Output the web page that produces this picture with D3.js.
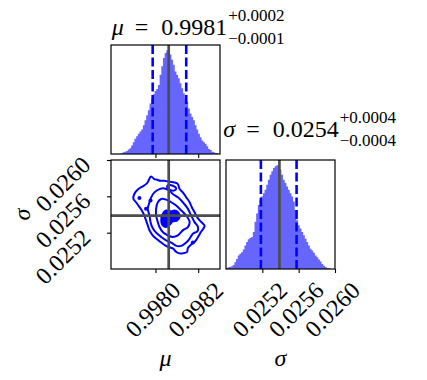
<!DOCTYPE html>
<html>
<head>
<meta charset="utf-8">
<script src="https://cdn.jsdelivr.net/npm/d3@7"></script>
<style>
  html, body { margin: 0; padding: 0; background: #fff; }
  svg { display: block; }
</style>
</head>
<body>
<div id="chart"></div>
<script>
// parameter ranges shown on the axes
const muRange = [0.997792, 0.998302];
const sigmaRange = [0.0248, 0.0260];
const muTicks = [0.9980, 0.9982];
const sigmaTicks = [0.0252, 0.0256, 0.0260];

// 1d histograms (relative counts, equal bins over the axis range)
const muCounts = [0, 0, 0, 0, 0, 1, 2, 5, 7, 9, 13, 17, 25, 35, 45, 53, 60, 67, 73, 85,
  100, 115, 130, 150, 165, 177, 187, 193, 205, 235, 260, 285, 300, 308, 305, 295, 280, 265, 245, 235,
  225, 210, 195, 180, 165, 155, 135, 120, 110, 100, 85, 73, 60, 50, 40, 35, 30, 23, 15, 12,
  7, 5, 3, 2, 0];
const sigmaCounts = [3, 5, 6, 8, 12, 20, 30, 40, 45, 50, 58, 70, 80, 88, 92, 95, 110, 140, 165, 190,
  205, 215, 225, 235, 250, 265, 280, 290, 300, 305, 308, 305, 295, 280, 265, 255, 245, 235, 225, 215,
  200, 175, 145, 130, 120, 110, 100, 90, 80, 70, 60, 55, 48, 40, 35, 28, 22, 15, 10, 6,
  3, 2, 0, 0, 0];

// quantiles (16%, 84%) and truth values
const muQuantiles = [0.997987, 0.998144];
const sigmaQuantiles = [0.025184, 0.025577];
const muTruth = 0.998062;
const sigmaTruth = 0.025388;

// titles
const muTitle = { sym: 'μ', value: '0.9981', up: '+0.0002', down: '−0.0001' };
const sigmaTitle = { sym: 'σ', value: '0.0254', up: '+0.0004', down: '−0.0004' };

// 2d contours, [mu, sigma] pairs
const outerContour = [
  [0.997979, 0.025818], [0.997961, 0.025746], [0.997940, 0.025709], [0.997920, 0.025681],
  [0.997901, 0.025626], [0.997897, 0.025572], [0.997909, 0.025535], [0.997920, 0.025499],
  [0.997936, 0.025444], [0.997948, 0.025389], [0.997956, 0.025335], [0.997964, 0.025280],
  [0.997972, 0.025226], [0.997987, 0.025171], [0.998003, 0.025135], [0.998019, 0.025106],
  [0.998039, 0.025070], [0.998058, 0.025044], [0.998081, 0.025026], [0.998097, 0.024989],
  [0.998113, 0.024972], [0.998128, 0.024972], [0.998148, 0.024989], [0.998152, 0.025033],
  [0.998167, 0.025070], [0.998186, 0.025106], [0.998199, 0.025153], [0.998211, 0.025201],
  [0.998230, 0.025273], [0.998222, 0.025299], [0.998207, 0.025335], [0.998195, 0.025371],
  [0.998183, 0.025425], [0.998170, 0.025480], [0.998160, 0.025535], [0.998144, 0.025589],
  [0.998128, 0.025644], [0.998113, 0.025681], [0.998105, 0.025735], [0.998089, 0.025753],
  [0.998066, 0.025760], [0.998042, 0.025771], [0.998023, 0.025771], [0.998008, 0.025782],
  [0.997995, 0.025790]
];
const middleContour = [
  [0.997995, 0.025644], [0.998019, 0.025680], [0.998042, 0.025687], [0.998066, 0.025662],
  [0.998081, 0.025625], [0.998105, 0.025589], [0.998128, 0.025535], [0.998152, 0.025462],
  [0.998167, 0.025389], [0.998183, 0.025316], [0.998199, 0.025262], [0.998196, 0.025215],
  [0.998175, 0.025189], [0.998160, 0.025135], [0.998144, 0.025091], [0.998121, 0.025055],
  [0.998097, 0.025055], [0.998074, 0.025091], [0.998050, 0.025116], [0.998027, 0.025153],
  [0.998003, 0.025200], [0.997987, 0.025251], [0.997977, 0.025316], [0.997972, 0.025389],
  [0.997964, 0.025462], [0.997972, 0.025535], [0.997980, 0.025589]
];
const topLoop = [
  [0.998058, 0.025724], [0.998081, 0.025716], [0.998097, 0.025691],
  [0.998089, 0.025665], [0.998066, 0.025673], [0.998055, 0.025698]
];
const innerContour = [
  [0.998011, 0.025535], [0.998027, 0.025571], [0.998050, 0.025564], [0.998074, 0.025535],
  [0.998097, 0.025498], [0.998121, 0.025444], [0.998144, 0.025389], [0.998160, 0.025316],
  [0.998152, 0.025262], [0.998128, 0.025225], [0.998105, 0.025171], [0.998081, 0.025153],
  [0.998058, 0.025171], [0.998034, 0.025207], [0.998019, 0.025262], [0.998011, 0.025316],
  [0.998003, 0.025389], [0.998003, 0.025462]
];
const coreContour = [
  [0.998034, 0.025407], [0.998050, 0.025444], [0.998074, 0.025433], [0.998089, 0.025444],
  [0.998108, 0.025418], [0.998113, 0.025371], [0.998102, 0.025335], [0.998081, 0.025324],
  [0.998066, 0.025287], [0.998050, 0.025262], [0.998034, 0.025280], [0.998027, 0.025335]
];
const strayPoints = [
  [0.997925, 0.025582], [0.997956, 0.025462], [0.997977, 0.025553], [0.998175, 0.025091]
];

// layout
const width = 427;
const height = 380;
const size = 109;
const col = [111, 226];
const row = [45, 160];
const blue = '#0000ff';
const truthColor = '#4d4d4d';

// pick the first serif face that is really installed
function pickSerif(candidates) {
  const ctx = document.createElement('canvas').getContext('2d');
  const sample = 'mmmmmwwwlli 0.9981 =';
  const widthOf = f => { ctx.font = `40px ${f}`; return ctx.measureText(sample).width; };
  const baseMono = widthOf('monospace');
  const baseSans = widthOf('sans-serif');
  for (const name of candidates) {
    if (widthOf(`"${name}", monospace`) !== baseMono || widthOf(`"${name}", sans-serif`) !== baseSans) {
      return `"${name}"`;
    }
  }
  return 'serif';
}
const serif = pickSerif(['Liberation Serif', 'DejaVu Serif', 'Tinos', 'Times New Roman',
  'Nimbus Roman', 'FreeSerif', 'Noto Serif', 'C059', 'Gelasio']);

const svg = d3.select('#chart')
  .append('svg')
  .attr('width', width)
  .attr('height', height)
  .style('font-family', serif);

const xMu = d3.scaleLinear().domain(muRange).range([col[0], col[0] + size]);
const xSigma = d3.scaleLinear().domain(sigmaRange).range([col[1], col[1] + size]);
const ySigma = d3.scaleLinear().domain(sigmaRange).range([row[1] + size, row[1]]);

// histogram panel
function drawHist(counts, x, top, quantiles, truth) {
  const n = counts.length;
  const binToValue = d3.scaleLinear().domain([0, n]).range(x.domain());
  const y = d3.scaleLinear().domain([0, d3.max(counts) * 1.05]).range([top + size, top]);
  const pts = counts.map((c, i) => [binToValue(i), c]).concat([[binToValue(n), counts[n - 1]]]);

  const area = d3.area()
    .x(d => x(d[0]))
    .y0(y(0))
    .y1(d => y(d[1]))
    .curve(d3.curveStepAfter);

  svg.append('path')
    .attr('d', area(pts))
    .attr('fill', '#6666ff');

  quantiles.forEach(q => {
    svg.append('line')
      .attr('x1', x(q)).attr('x2', x(q))
      .attr('y1', top).attr('y2', top + size)
      .attr('stroke', blue)
      .attr('stroke-width', 2.6)
      .attr('stroke-dasharray', '9,3.5');
  });

  svg.append('line')
    .attr('x1', x(truth)).attr('x2', x(truth))
    .attr('y1', top).attr('y2', top + size)
    .attr('stroke', truthColor)
    .attr('stroke-width', 2.7);
}

function frame(x0, y0) {
  svg.append('rect')
    .attr('x', x0).attr('y', y0)
    .attr('width', size).attr('height', size)
    .attr('fill', 'none')
    .attr('stroke', '#000')
    .attr('stroke-width', 1.2);
}

function styleAxis(g) {
  g.attr('font-size', 24).attr('font-family', null).style('font-family', serif);
  g.select('.domain').remove();
  g.selectAll('.tick line').attr('stroke-width', 1.1);
}

function drawTitle(x, y, t) {
  const text = svg.append('text').attr('x', x).attr('y', y).attr('font-size', 24);
  text.append('tspan').attr('font-style', 'italic').text(t.sym);
  text.append('tspan').attr('dx', 11).text('=');
  text.append('tspan').attr('dx', 13).text(t.value);
  const w = text.node().getComputedTextLength() + 11 + 13;
  svg.append('text').attr('x', x + w + 1).attr('y', y - 14).attr('font-size', 17).text(t.up);
  svg.append('text').attr('x', x + w + 1).attr('y', y + 9).attr('font-size', 17).text(t.down);
}

// mu histogram (top left)
drawHist(muCounts, xMu, row[0], muQuantiles, muTruth);
svg.append('g')
  .attr('transform', `translate(0, ${row[0] + size})`)
  .call(d3.axisBottom(xMu).tickValues(muTicks).tickSize(4).tickSizeOuter(0).tickFormat(''))
  .call(styleAxis);
frame(col[0], row[0]);

// sigma histogram (bottom right)
drawHist(sigmaCounts, xSigma, row[1], sigmaQuantiles, sigmaTruth);
const sigAxis = svg.append('g')
  .attr('transform', `translate(0, ${row[1] + size})`)
  .call(d3.axisBottom(xSigma).tickValues(sigmaTicks).tickSize(4).tickSizeOuter(0).tickFormat(d3.format('.4f')))
  .call(styleAxis);
frame(col[1], row[1]);

// 2d panel (bottom left)
const line = d3.line()
  .x(d => xMu(d[0]))
  .y(d => ySigma(d[1]))
  .curve(d3.curveCatmullRomClosed.alpha(0.5));

[outerContour, middleContour, topLoop, innerContour].forEach(c => {
  svg.append('path')
    .attr('d', line(c))
    .attr('fill', 'none')
    .attr('stroke', blue)
    .attr('stroke-width', 2);
});

svg.append('path')
  .attr('d', line(coreContour))
  .attr('fill', blue)
  .attr('stroke', blue)
  .attr('stroke-width', 2);

svg.selectAll('.stray')
  .data(strayPoints)
  .enter()
  .append('circle')
  .attr('class', 'stray')
  .attr('cx', d => xMu(d[0]))
  .attr('cy', d => ySigma(d[1]))
  .attr('r', 2)
  .attr('fill', blue);

svg.append('line')
  .attr('x1', xMu(muTruth)).attr('x2', xMu(muTruth))
  .attr('y1', row[1]).attr('y2', row[1] + size)
  .attr('stroke', truthColor).attr('stroke-width', 2.7);
svg.append('line')
  .attr('x1', col[0]).attr('x2', col[0] + size)
  .attr('y1', ySigma(sigmaTruth)).attr('y2', ySigma(sigmaTruth))
  .attr('stroke', truthColor).attr('stroke-width', 2.7);

const muAxis = svg.append('g')
  .attr('transform', `translate(0, ${row[1] + size})`)
  .call(d3.axisBottom(xMu).tickValues(muTicks).tickSize(4).tickSizeOuter(0).tickFormat(d3.format('.4f')))
  .call(styleAxis);
const sigYAxis = svg.append('g')
  .attr('transform', `translate(${col[0]}, 0)`)
  .call(d3.axisLeft(ySigma).tickValues(sigmaTicks).tickSize(4).tickSizeOuter(0).tickFormat(d3.format('.4f')))
  .call(styleAxis);
frame(col[0], row[1]);

// rotated tick labels
[muAxis, sigAxis].forEach(g => {
  g.selectAll('.tick text')
    .attr('x', 26).attr('y', 23).attr('dy', null)
    .attr('text-anchor', 'end')
    .attr('transform', 'rotate(-45, 26, 23)');
});
sigYAxis.selectAll('.tick text')
  .attr('x', -19).attr('y', 6).attr('dy', null)
  .attr('text-anchor', 'end')
  .attr('transform', 'rotate(-45, -19, 6)');

// axis labels
svg.append('text')
  .attr('x', xMu(d3.mean(muRange))).attr('y', 366)
  .attr('text-anchor', 'middle').attr('font-size', 24).attr('font-style', 'italic')
  .text('μ');
svg.append('text')
  .attr('x', xSigma(d3.mean(sigmaRange))).attr('y', 366)
  .attr('text-anchor', 'middle').attr('font-size', 24).attr('font-style', 'italic')
  .text('σ');
svg.append('text')
  .attr('transform', `translate(30, ${row[1] + size / 2}) rotate(-90)`)
  .attr('text-anchor', 'middle').attr('font-size', 24).attr('font-style', 'italic')
  .text('σ');

// titles
drawTitle(111.7, 35, muTitle);
drawTitle(223.3, 136.7, sigmaTitle);
</script>
</body>
</html>
